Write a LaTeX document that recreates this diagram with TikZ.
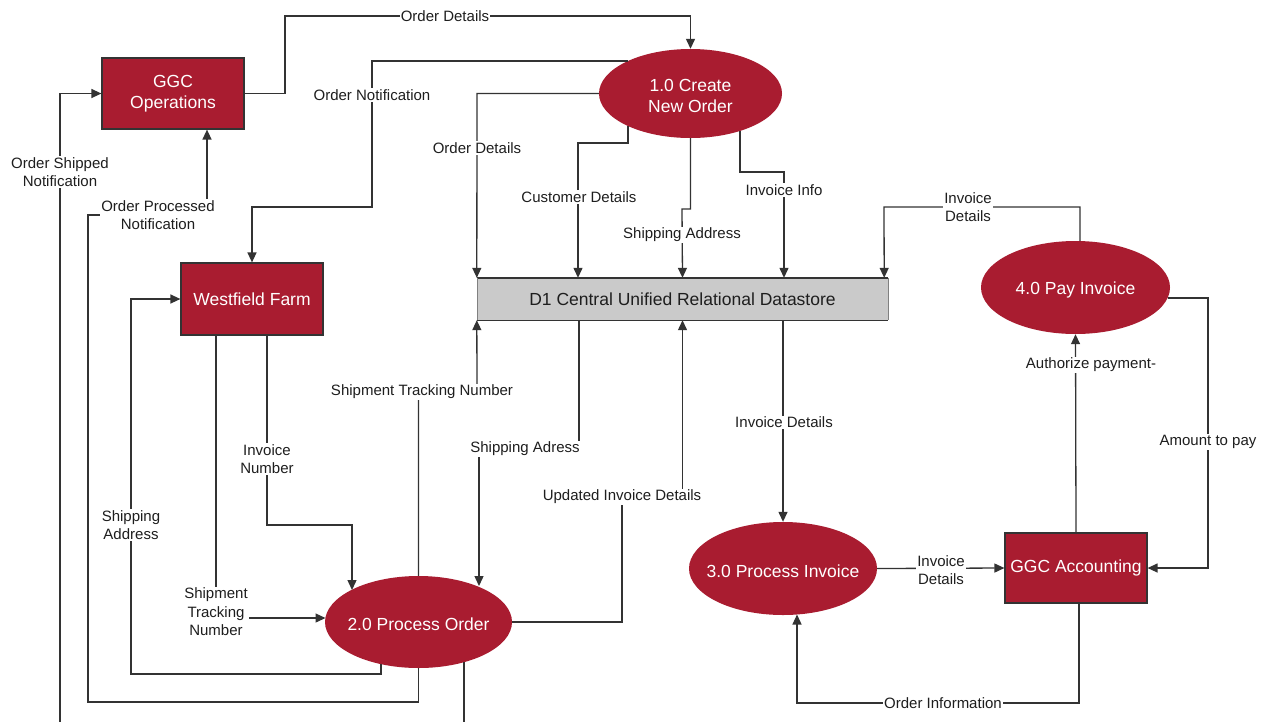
\documentclass[tikz,border=0pt]{standalone}
\usepackage{fontspec}
\setmainfont{Liberation Sans}
\usetikzlibrary{shapes.geometric,arrows.meta}

\definecolor{procred}{HTML}{A91C30}
\definecolor{storegray}{HTML}{CACACA}
\definecolor{linegray}{HTML}{333333}
\definecolor{labelgray}{HTML}{1E1E1E}

\tikzset{
  entity/.style={rectangle, draw=linegray, line width=1.2pt, fill=procred,
    text=white, align=center, inner sep=0pt,
    font=\fontsize{17.5}{21}\selectfont},
  process/.style={ellipse, fill=procred, inner sep=0pt},
  proctext/.style={text=white, align=center, inner sep=0pt,
    font=\fontsize{17.5}{21}\selectfont},
  flow/.style={draw=linegray, line width=1.3pt,
    -{Triangle[length=10pt,width=9pt]}},
  flowlabel/.style={fill=white, text=labelgray, align=center,
    inner sep=1pt, font=\fontsize{15}{18.5}\selectfont}
}

\begin{document}
\begin{tikzpicture}[x=1pt, y=-1pt]
\useasboundingbox (0,0) rectangle (1265,721);
\fill[white] (0,0) rectangle (1265,721);

% external entities
\node[entity, minimum width=142pt, minimum height=71pt] (ops) at (173,93.5) {GGC\\Operations};
\node[entity, minimum width=142pt, minimum height=72pt] (farm) at (252,299) {Westfield Farm};
\node[entity, minimum width=142pt, minimum height=70pt] (acct) at (1076,568) {GGC Accounting};

% processes (shape and caption kept apart so the caption does not size the ellipse)
\node[process, minimum width=183pt, minimum height=89pt] (create) at (690.5,93.5) {};
\node[process, minimum width=187pt, minimum height=92pt] (porder) at (418.5,622) {};
\node[process, minimum width=188pt, minimum height=93pt] (pinv) at (783,568.5) {};
\node[process, minimum width=189pt, minimum height=93pt] (pay) at (1075.5,287.5) {};
\node[proctext] (createtxt) at ([yshift=-2pt]create.center) {1.0 Create\\New Order};
\node[proctext] (ordertxt) at ([yshift=-2.5pt]porder.center) {2.0 Process Order};
\node[proctext] (invtxt) at ([yshift=-2.5pt]pinv.center) {3.0 Process Invoice};
\node[proctext] (paytxt) at ([yshift=-2pt]pay.center) {4.0 Pay Invoice};

% data store
\node[rectangle, fill=storegray, text=labelgray, inner sep=0pt,
  minimum width=411pt, minimum height=42pt,
  font=\fontsize{17.5}{21}\selectfont] (store) at (682.5,299)
  {D1 Central Unified Relational Datastore};
\draw[linegray, line width=1.4pt] (store.north west) -- (store.north east);
\draw[linegray, line width=1.4pt] (store.south west) -- (store.south east);
\draw[gray, line width=0.6pt] (store.north west) -- (store.south west);
\draw[gray, line width=0.6pt] (store.north east) -- (store.south east);

% border points on the process ellipses
\coordinate (cNotif) at (628,61);
\coordinate (cCust) at (628,126);
\coordinate (cInv) at (740,131);
\coordinate (pInvNo) at (352,590);
\coordinate (pTrack) at (325.5,618);
\coordinate (pShipIn) at (479,586);
\coordinate (pShipOut) at (381,664);
\coordinate (pShipped) at (464,662);
\coordinate (iOrder) at (797,614.5);
\coordinate (yTop) at (1080,241);
\coordinate (yRight) at (1168,298);

% flows around 1.0
\draw[flow] (ops.east) -- (285,93.5) -- (285,16) -- (690.5,16) -- (create.north);
\draw[flow] (cNotif) -- (372,61) -- (372,207) -- (252,207) -- (farm.north);
\draw[flow] (create.west) -- (477,93.5) -- (store.north west);
\draw[flow] (cCust) -- (628,143) -- (578,143) -- ([xshift=-104.5pt]store.north);
\draw[flow] (create.south) -- (690.5,209) -- (682,209) -- (store.north);
\draw[flow] (cInv) -- (740,172) -- (784,172) -- ([xshift=101.5pt]store.north);

% flows around 2.0
\draw[flow] ([xshift=15pt]farm.south) -- (267,525) -- (352,525) -- (pInvNo);
\draw[flow] ([xshift=-36pt]farm.south) -- (216,618) -- (pTrack);
\draw[flow] (pShipOut) -- (381,674) -- (131,674) -- (131,299) -- (farm.west);
\draw[flow] (porder.south) -- (418.5,702) -- (88,702) -- (88,215) -- (207,215) -- ([xshift=34pt]ops.south);
\draw[flow] (pShipped) -- (464,740) -- (60,740) -- (60,93.5) -- (ops.west);
\draw[flow] (porder.north) -- (418.5,392) -- (477,392) -- (store.south west);
\draw[flow] ([xshift=-103.5pt]store.south) -- (579,449) -- (479,449) -- (pShipIn);
\draw[flow] (porder.east) -- (622,622) -- (622,497) -- (682.5,497) -- (store.south);

% flows around 3.0 and 4.0
\draw[flow] (pinv.north |- store.south) -- (pinv.north);
\draw[flow] (pinv.east) -- (acct.west);
\draw[flow] ([xshift=3pt]acct.south) -- (1079,703) -- (797,703) -- (iOrder);
\draw[flow] (yTop) -- (1080,207) -- (884,207) -- ([xshift=-4pt]store.north east);
\draw[flow] (acct.north) -- (pay.south);
\draw[flow] (yRight) -- (1208,298) -- (1208,568) -- (acct.east);

% flow labels
\node[flowlabel] (l1) at (445,16) {Order Details};
\node[flowlabel] (l2) at (372,95) {Order Notification};
\node[flowlabel] (l3) at (477,148) {Order Details};
\node[flowlabel] (l4) at (579,197) {Customer Details};
\node[flowlabel] (l5) at (682,235) {Shipping Address};
\node[flowlabel] (l6) at (784,190) {Invoice Info};
\node[flowlabel] (l7) at (968,207) {Invoice\\Details};
\node[flowlabel] (l8) at (1091,365) {Authorize payment-};
\node[flowlabel] (l9) at (1208,442) {Amount to pay};
\node[flowlabel] (l10) at (941,570) {Invoice\\Details};
\node[flowlabel] (l11) at (943,703) {Order Information};
\node[flowlabel] (l12) at (784,422) {Invoice Details};
\node[flowlabel] (l13) at (525,449) {Shipping Adress};
\node[flowlabel] (l14) at (622,497) {Updated Invoice Details};
\node[flowlabel] (l15) at (422,392) {Shipment Tracking Number};
\node[flowlabel] (l16) at (267,459) {Invoice\\Number};
\node[flowlabel] (l17) at (216,612) {Shipment\\Tracking\\Number};
\node[flowlabel] (l18) at (131,525) {Shipping\\Address};
\node[flowlabel] (l19) at (158,215) {Order Processed\\Notification};
\node[flowlabel] (l20) at (60,172) {Order Shipped\\Notification};
\end{tikzpicture}
\end{document}
